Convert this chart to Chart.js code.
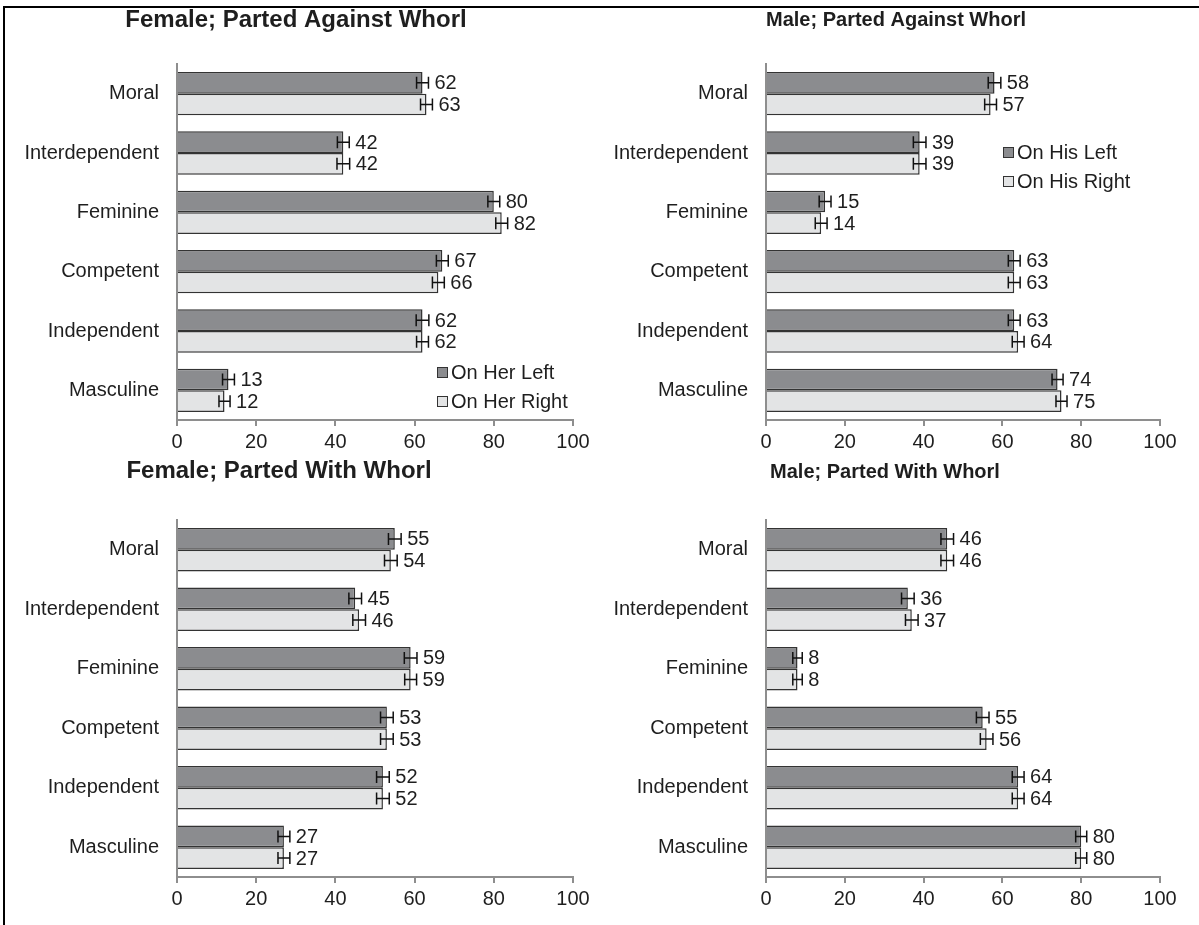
<!DOCTYPE html>
<html>
<head>
<meta charset="utf-8">
<script src="https://cdn.jsdelivr.net/npm/chart.js@4.4.1/dist/chart.umd.min.js"></script>
<style>
  html, body { margin: 0; padding: 0; background: #fff; }
  #page { position: relative; width: 1199px; height: 925px; overflow: hidden; background: #fff; }
  #page canvas { position: absolute; }
  .frame { position: absolute; left: 3px; top: 6px; right: 0; bottom: 0;
           border-top: 2px solid #000; border-left: 2px solid #000;
           pointer-events: none; z-index: 2; }
</style>
</head>
<body>
<div id="page">
  <canvas id="femaleAgainst"></canvas>
  <canvas id="maleAgainst"></canvas>
  <canvas id="femaleWith"></canvas>
  <canvas id="maleWith"></canvas>
  <div class="frame"></div>
</div>
<script>
// Trait categories and axis ticks
const traits = ['Moral', 'Interdependent', 'Feminine', 'Competent', 'Independent', 'Masculine'];
const xTicks = [0, 20, 40, 60, 80, 100];

// Female target, hair parted against the whorl
const femaleAgainstLeft = [62, 42, 80, 67, 62, 13];
const femaleAgainstRight = [63, 42, 82, 66, 62, 12];
const femaleAgainstLeftErr = [1.5, 1.5, 1.5, 1.5, 1.6, 1.5];
const femaleAgainstRightErr = [1.5, 1.6, 1.5, 1.5, 1.5, 1.4];

// Male target, hair parted against the whorl
const maleAgainstLeft = [58, 39, 15, 63, 63, 74];
const maleAgainstRight = [57, 39, 14, 63, 64, 75];
const maleAgainstLeftErr = [1.6, 1.6, 1.5, 1.5, 1.5, 1.4];
const maleAgainstRightErr = [1.5, 1.6, 1.5, 1.5, 1.5, 1.4];

// Female target, hair parted with the whorl
const femaleWithLeft = [55, 45, 59, 53, 52, 27];
const femaleWithRight = [54, 46, 59, 53, 52, 27];
const femaleWithLeftErr = [1.6, 1.6, 1.6, 1.6, 1.6, 1.5];
const femaleWithRightErr = [1.6, 1.6, 1.5, 1.6, 1.6, 1.5];

// Male target, hair parted with the whorl
const maleWithLeft = [46, 36, 8, 55, 64, 80];
const maleWithRight = [46, 37, 8, 56, 64, 80];
const maleWithLeftErr = [1.6, 1.6, 1.2, 1.6, 1.5, 1.4];
const maleWithRightErr = [1.6, 1.6, 1.2, 1.6, 1.5, 1.4];

const herSeries = ['On Her Left', 'On Her Right'];
const hisSeries = ['On His Left', 'On His Right'];

const FONT = '"Liberation Sans", Arial, sans-serif';
const TEXT = '#1e1e1e';
const AXIS = '#8e8e8e';
const DARK_FILL = '#8b8c8f';
const LIGHT_FILL = '#e3e4e5';
const BAR_EDGE = '#333333';
const TXT_SIZE = 20;

// Panel frames (page pixels); plot edges are canvas-local
const panels = [
  { id: 'femaleAgainst', x: 0, y: 0, w: 600, h: 460,
    title: 'Female; Parted Against Whorl', titleX: 296, titleY: 20, titleSize: 24,
    plotLeft: 177, plotRight: 573, plotTop: 64, plotBottom: 420,
    left: femaleAgainstLeft, right: femaleAgainstRight,
    leftErr: femaleAgainstLeftErr, rightErr: femaleAgainstRightErr,
    series: herSeries, legend: { x: 437, y: 372, gap: 29 } },
  { id: 'maleAgainst', x: 600, y: 0, w: 599, h: 460,
    title: 'Male; Parted Against Whorl', titleX: 296, titleY: 20, titleSize: 20,
    plotLeft: 166, plotRight: 560, plotTop: 64, plotBottom: 420,
    left: maleAgainstLeft, right: maleAgainstRight,
    leftErr: maleAgainstLeftErr, rightErr: maleAgainstRightErr,
    series: hisSeries, legend: { x: 403, y: 152, gap: 29 } },
  { id: 'femaleWith', x: 0, y: 460, w: 600, h: 465,
    title: 'Female; Parted With Whorl', titleX: 279, titleY: 11, titleSize: 24,
    plotLeft: 177, plotRight: 573, plotTop: 60, plotBottom: 417,
    left: femaleWithLeft, right: femaleWithRight,
    leftErr: femaleWithLeftErr, rightErr: femaleWithRightErr,
    series: herSeries, legend: null },
  { id: 'maleWith', x: 600, y: 460, w: 599, h: 465,
    title: 'Male; Parted With Whorl', titleX: 285, titleY: 12, titleSize: 20,
    plotLeft: 166, plotRight: 560, plotTop: 60, plotBottom: 417,
    left: maleWithLeft, right: maleWithRight,
    leftErr: maleWithLeftErr, rightErr: maleWithRightErr,
    series: hisSeries, legend: null }
];

// Error whiskers and value labels drawn at each bar end
const errorBarPlugin = {
  id: 'errorBars',
  afterDatasetsDraw(chart) {
    const { ctx } = chart;
    const xs = chart.scales.x;
    chart.data.datasets.forEach((ds, i) => {
      const meta = chart.getDatasetMeta(i);
      meta.data.forEach((bar, j) => {
        const v = ds.data[j];
        const e = ds.errors[j];
        const x0 = xs.getPixelForValue(v - e);
        const x1 = xs.getPixelForValue(v + e);
        const y = bar.y;
        ctx.save();
        ctx.strokeStyle = '#111';
        ctx.lineWidth = 1.5;
        ctx.beginPath();
        ctx.moveTo(x0, y); ctx.lineTo(x1, y);
        ctx.moveTo(x0, y - 6); ctx.lineTo(x0, y + 6);
        ctx.moveTo(x1, y - 6); ctx.lineTo(x1, y + 6);
        ctx.stroke();
        ctx.fillStyle = TEXT;
        ctx.font = TXT_SIZE + 'px ' + FONT;
        ctx.textAlign = 'left';
        ctx.textBaseline = 'middle';
        ctx.fillText(String(v), x1 + 6, y + 1);
        ctx.restore();
      });
    });
  }
};

function decorPlugin(p) {
  return {
    id: 'panelDecor',
    afterDraw(chart) {
      const { ctx } = chart;
      ctx.save();
      ctx.fillStyle = TEXT;
      ctx.font = 'bold ' + p.titleSize + 'px ' + FONT;
      ctx.textAlign = 'center';
      ctx.textBaseline = 'middle';
      ctx.fillText(p.title, p.titleX, p.titleY);
      if (p.legend) {
        chart.data.datasets.forEach((ds, i) => {
          const ly = p.legend.y + i * p.legend.gap;
          ctx.fillStyle = ds.backgroundColor;
          ctx.fillRect(p.legend.x, ly - 5, 11, 11);
          ctx.strokeStyle = BAR_EDGE;
          ctx.lineWidth = 1;
          ctx.strokeRect(p.legend.x + 0.5, ly - 4.5, 10, 10);
          ctx.fillStyle = TEXT;
          ctx.font = TXT_SIZE + 'px ' + FONT;
          ctx.textAlign = 'left';
          ctx.fillText(ds.label, p.legend.x + 14, ly + 1);
        });
      }
      ctx.restore();
    }
  };
}

panels.forEach(p => {
  const cv = document.getElementById(p.id);
  cv.width = p.w; cv.height = p.h;
  cv.style.left = p.x + 'px'; cv.style.top = p.y + 'px';
  cv.style.width = p.w + 'px'; cv.style.height = p.h + 'px';

  new Chart(cv, {
    type: 'bar',
    data: {
      labels: traits,
      datasets: [
        { label: p.series[0], data: p.left, errors: p.leftErr,
          backgroundColor: DARK_FILL, borderColor: BAR_EDGE, borderWidth: 1.5,
          categoryPercentage: 0.73, barPercentage: 1.0 },
        { label: p.series[1], data: p.right, errors: p.rightErr,
          backgroundColor: LIGHT_FILL, borderColor: BAR_EDGE, borderWidth: 1.5,
          categoryPercentage: 0.73, barPercentage: 1.0 }
      ]
    },
    options: {
      responsive: false,
      animation: false,
      indexAxis: 'y',
      layout: { padding: { top: p.plotTop, right: p.w - p.plotRight, bottom: 0, left: 0 } },
      plugins: { legend: { display: false }, title: { display: false }, tooltip: { enabled: false } },
      scales: {
        x: {
          min: 0, max: 100,
          afterBuildTicks(s) { s.ticks = xTicks.map(v => ({ value: v })); },
          afterFit(s) { s.height = p.h - p.plotBottom; },
          ticks: { padding: 4, color: TEXT, font: { family: FONT, size: TXT_SIZE },
                   maxRotation: 0, autoSkip: false },
          grid: { drawOnChartArea: false, drawTicks: true, tickLength: 6, color: AXIS, lineWidth: 2 },
          border: { display: true, color: AXIS, width: 2 }
        },
        y: {
          afterFit(s) { s.width = p.plotLeft; },
          ticks: { padding: 18, color: TEXT, font: { family: FONT, size: TXT_SIZE } },
          grid: { display: false, drawTicks: false },
          border: { display: true, color: AXIS, width: 2 }
        }
      }
    },
    plugins: [errorBarPlugin, decorPlugin(p)]
  });
});
</script>
</body>
</html>
